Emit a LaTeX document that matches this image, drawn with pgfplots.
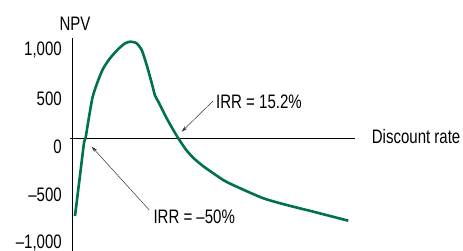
\documentclass[border=0pt]{standalone}
\usepackage{fontspec}
\setmainfont{Liberation Sans}[FakeStretch=0.77]
\usepackage{pgfplots}
\pgfplotsset{compat=1.18}
\usetikzlibrary{arrows.meta}
\definecolor{npvgreen}{RGB}{0,114,72}
\definecolor{arrowgray}{RGB}{50,50,50}
\begin{document}
\begin{tikzpicture}
\begin{axis}[
  scale only axis, width=391pt, height=251pt,
  xmin=72, xmax=463, ymin=-1169, ymax=1434.6,
  axis line style={draw=none},
  xtick=\empty,
  ytick={-1000,-500,0,500,1000},
  yticklabels={{--1,000},{--500},{0},{500},{1,000}},
  major tick length=0pt,
  /pgf/number format/assume math mode=true,
  yticklabel style={anchor=east, inner sep=0pt, xshift=-10pt, yshift=-8.5pt},
  font=\fontsize{19.5}{23}\selectfont,
  clip=false,
]
\draw[black, line width=0.8pt] (axis cs:72,1040) -- (axis cs:72,-1169);
\draw[black, line width=0.8pt] (axis cs:70,0) -- (axis cs:355,0);
\addplot[npvgreen, line width=2.6pt, smooth, tension=0.4] coordinates {
(75,-806) (80,-386) (84,-49) (85.5,0) (89,220) (92.7,431) (98.3,605)
(103.3,726) (110,830) (118.3,926) (125,985) (130,1002) (133,999)
(136.7,985) (141.7,916) (146.7,760) (151.7,574) (155,444) (158.3,380)
(162,304) (166.7,207) (173.3,86) (178.3,0) (182,-58) (186,-118)
(193,-200) (203.3,-290) (223.3,-433) (236.7,-502) (263.3,-622)
(286.7,-692) (313.3,-761) (348.3,-855)
};
\node[anchor=center, inner sep=0pt] at (axis cs:75,1185) {NPV};
\node[anchor=west, inner sep=0pt] at (axis cs:371.7,16.6) {Discount rate};
\node[anchor=west, inner sep=0pt] at (axis cs:216,381.7) {IRR = 15.2\%};
\node[anchor=west, inner sep=0pt] at (axis cs:153.3,-813) {IRR = --50\%};
\draw[arrowgray, line width=0.5pt, -{Stealth[length=6pt,width=3.5pt]}] (axis cs:213,387) -- (axis cs:181.7,68.5);
\draw[arrowgray, line width=0.5pt, -{Stealth[length=6pt,width=3.5pt]}] (axis cs:149.3,-744) -- (axis cs:91.7,-87);
\end{axis}
\pgfresetboundingbox
\path ([xshift=-72pt]current axis.south west) rectangle (current axis.north east);
\end{tikzpicture}
\end{document}
